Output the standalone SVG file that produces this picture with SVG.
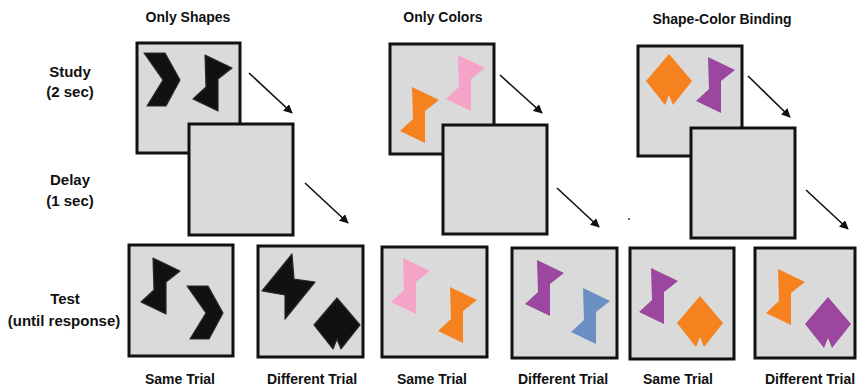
<svg xmlns="http://www.w3.org/2000/svg" width="857" height="390" viewBox="0 0 857 390">
<defs>
<style>
.t{font-family:"Liberation Sans",Arial,sans-serif;font-weight:bold;font-size:14px;fill:#111;text-anchor:middle}
.l{font-size:15px}
.box{fill:#dadada;stroke:#111;stroke-width:3}
.arr{stroke:#111;stroke-width:1.6;fill:none;marker-end:url(#ah)}
.k{fill:#111;stroke:#2a2a2a;stroke-width:1.2;stroke-linejoin:round}
.or{fill:#f5821f}.pk{fill:#f5a3c7}.pu{fill:#9b479f}.bl{fill:#6b8fc3}
</style>
<marker id="ah" viewBox="0 0 10 10" refX="9" refY="5" markerWidth="9" markerHeight="9" markerUnits="userSpaceOnUse" orient="auto"><path d="M0,0 L10,5 L0,10 Z" fill="#111"/></marker>
<path id="bow" d="M0,0 L27,13 L13,24 L13,56 L-12,44 L1,32 Z"/>
<path id="chev" d="M0,0 L21,0 L36,27 L22,53 L3,53 L19,27 Z"/>
<path id="dia" d="M0,0 L23,27 L4,51 L0,41 L-4,51 L-23,27 Z"/>
</defs>
<rect width="857" height="390" fill="#fff"/>

<g id="titles">
<text class="t" x="188" y="22">Only Shapes</text>
<text class="t" x="443" y="22">Only Colors</text>
<text class="t" x="722" y="24">Shape-Color Binding</text>
</g>
<g id="row-labels">
<text class="t l" x="70" y="77">Study</text>
<text class="t l" x="70" y="97">(2 sec)</text>
<text class="t l" x="70" y="185">Delay</text>
<text class="t l" x="70" y="206">(1 sec)</text>
<text class="t l" x="65" y="304">Test</text>
<text class="t l" x="64" y="326">(until response)</text>
</g>

<g id="shapes-study">
<rect class="box" x="137" y="43" width="103" height="110"/>
<use href="#chev" class="k" x="144" y="53"/>
<use href="#bow" class="k" x="205" y="55"/>
</g>
<g id="shapes-delay"><rect class="box" x="189" y="124" width="104" height="111"/></g>
<g id="shapes-same">
<rect class="box" x="129" y="245" width="104" height="111"/>
<use href="#bow" class="k" x="153" y="258"/>
<use href="#chev" class="k" x="187" y="286"/>
</g>
<g id="shapes-diff">
<rect class="box" x="258" y="246" width="105" height="111"/>
<path class="k" d="M292,254 L294,279 L315,282 L285,319 L285,295 L262,291 Z"/>
<use href="#dia" class="k" x="337" y="298"/>
</g>

<g id="colors-study">
<rect class="box" x="390" y="44" width="104" height="110"/>
<use href="#bow" class="pk" x="458" y="55"/>
<use href="#bow" class="or" x="412" y="87"/>
</g>
<g id="colors-delay"><rect class="box" x="443" y="125" width="104" height="109"/></g>
<g id="colors-same">
<rect class="box" x="382" y="247" width="105" height="110"/>
<use href="#bow" class="pk" x="403" y="258"/>
<use href="#bow" class="or" x="450" y="287"/>
</g>
<g id="colors-diff">
<rect class="box" x="512" y="248" width="105" height="110"/>
<use href="#bow" class="pu" x="537" y="260"/>
<use href="#bow" class="bl" x="583" y="288"/>
</g>

<g id="binding-study">
<rect class="box" x="638" y="46" width="104" height="110"/>
<use href="#dia" class="or" x="669" y="54"/>
<use href="#bow" class="pu" x="708" y="57"/>
</g>
<g id="binding-delay"><rect class="box" x="691" y="128" width="104" height="110"/></g>
<g id="binding-same">
<rect class="box" x="630" y="248" width="104" height="111"/>
<use href="#bow" class="pu" x="651" y="268"/>
<use href="#dia" class="or" x="700" y="296"/>
</g>
<g id="binding-diff">
<rect class="box" x="755" y="248" width="100" height="110"/>
<use href="#bow" class="or" x="778" y="269"/>
<use href="#dia" class="pu" x="828" y="297"/>
</g>

<g id="connectors">
<line class="arr" x1="249" y1="73" x2="292" y2="113"/>
<line class="arr" x1="305" y1="183" x2="348" y2="223"/>
<line class="arr" x1="500" y1="75" x2="542" y2="113"/>
<line class="arr" x1="557" y1="188" x2="599" y2="227"/>
<line class="arr" x1="748" y1="76" x2="790" y2="117"/>
<line class="arr" x1="806" y1="190" x2="848" y2="229"/>
</g>
<circle cx="629" cy="219" r="1" fill="#333"/>

<g id="trial-labels">
<text class="t" x="180" y="384">Same Trial</text>
<text class="t" x="312" y="384">Different Trial</text>
<text class="t" x="432" y="384">Same Trial</text>
<text class="t" x="563" y="384">Different Trial</text>
<text class="t" x="678" y="384">Same Trial</text>
<text class="t" x="810" y="384">Different Trial</text>
</g>
</svg>
